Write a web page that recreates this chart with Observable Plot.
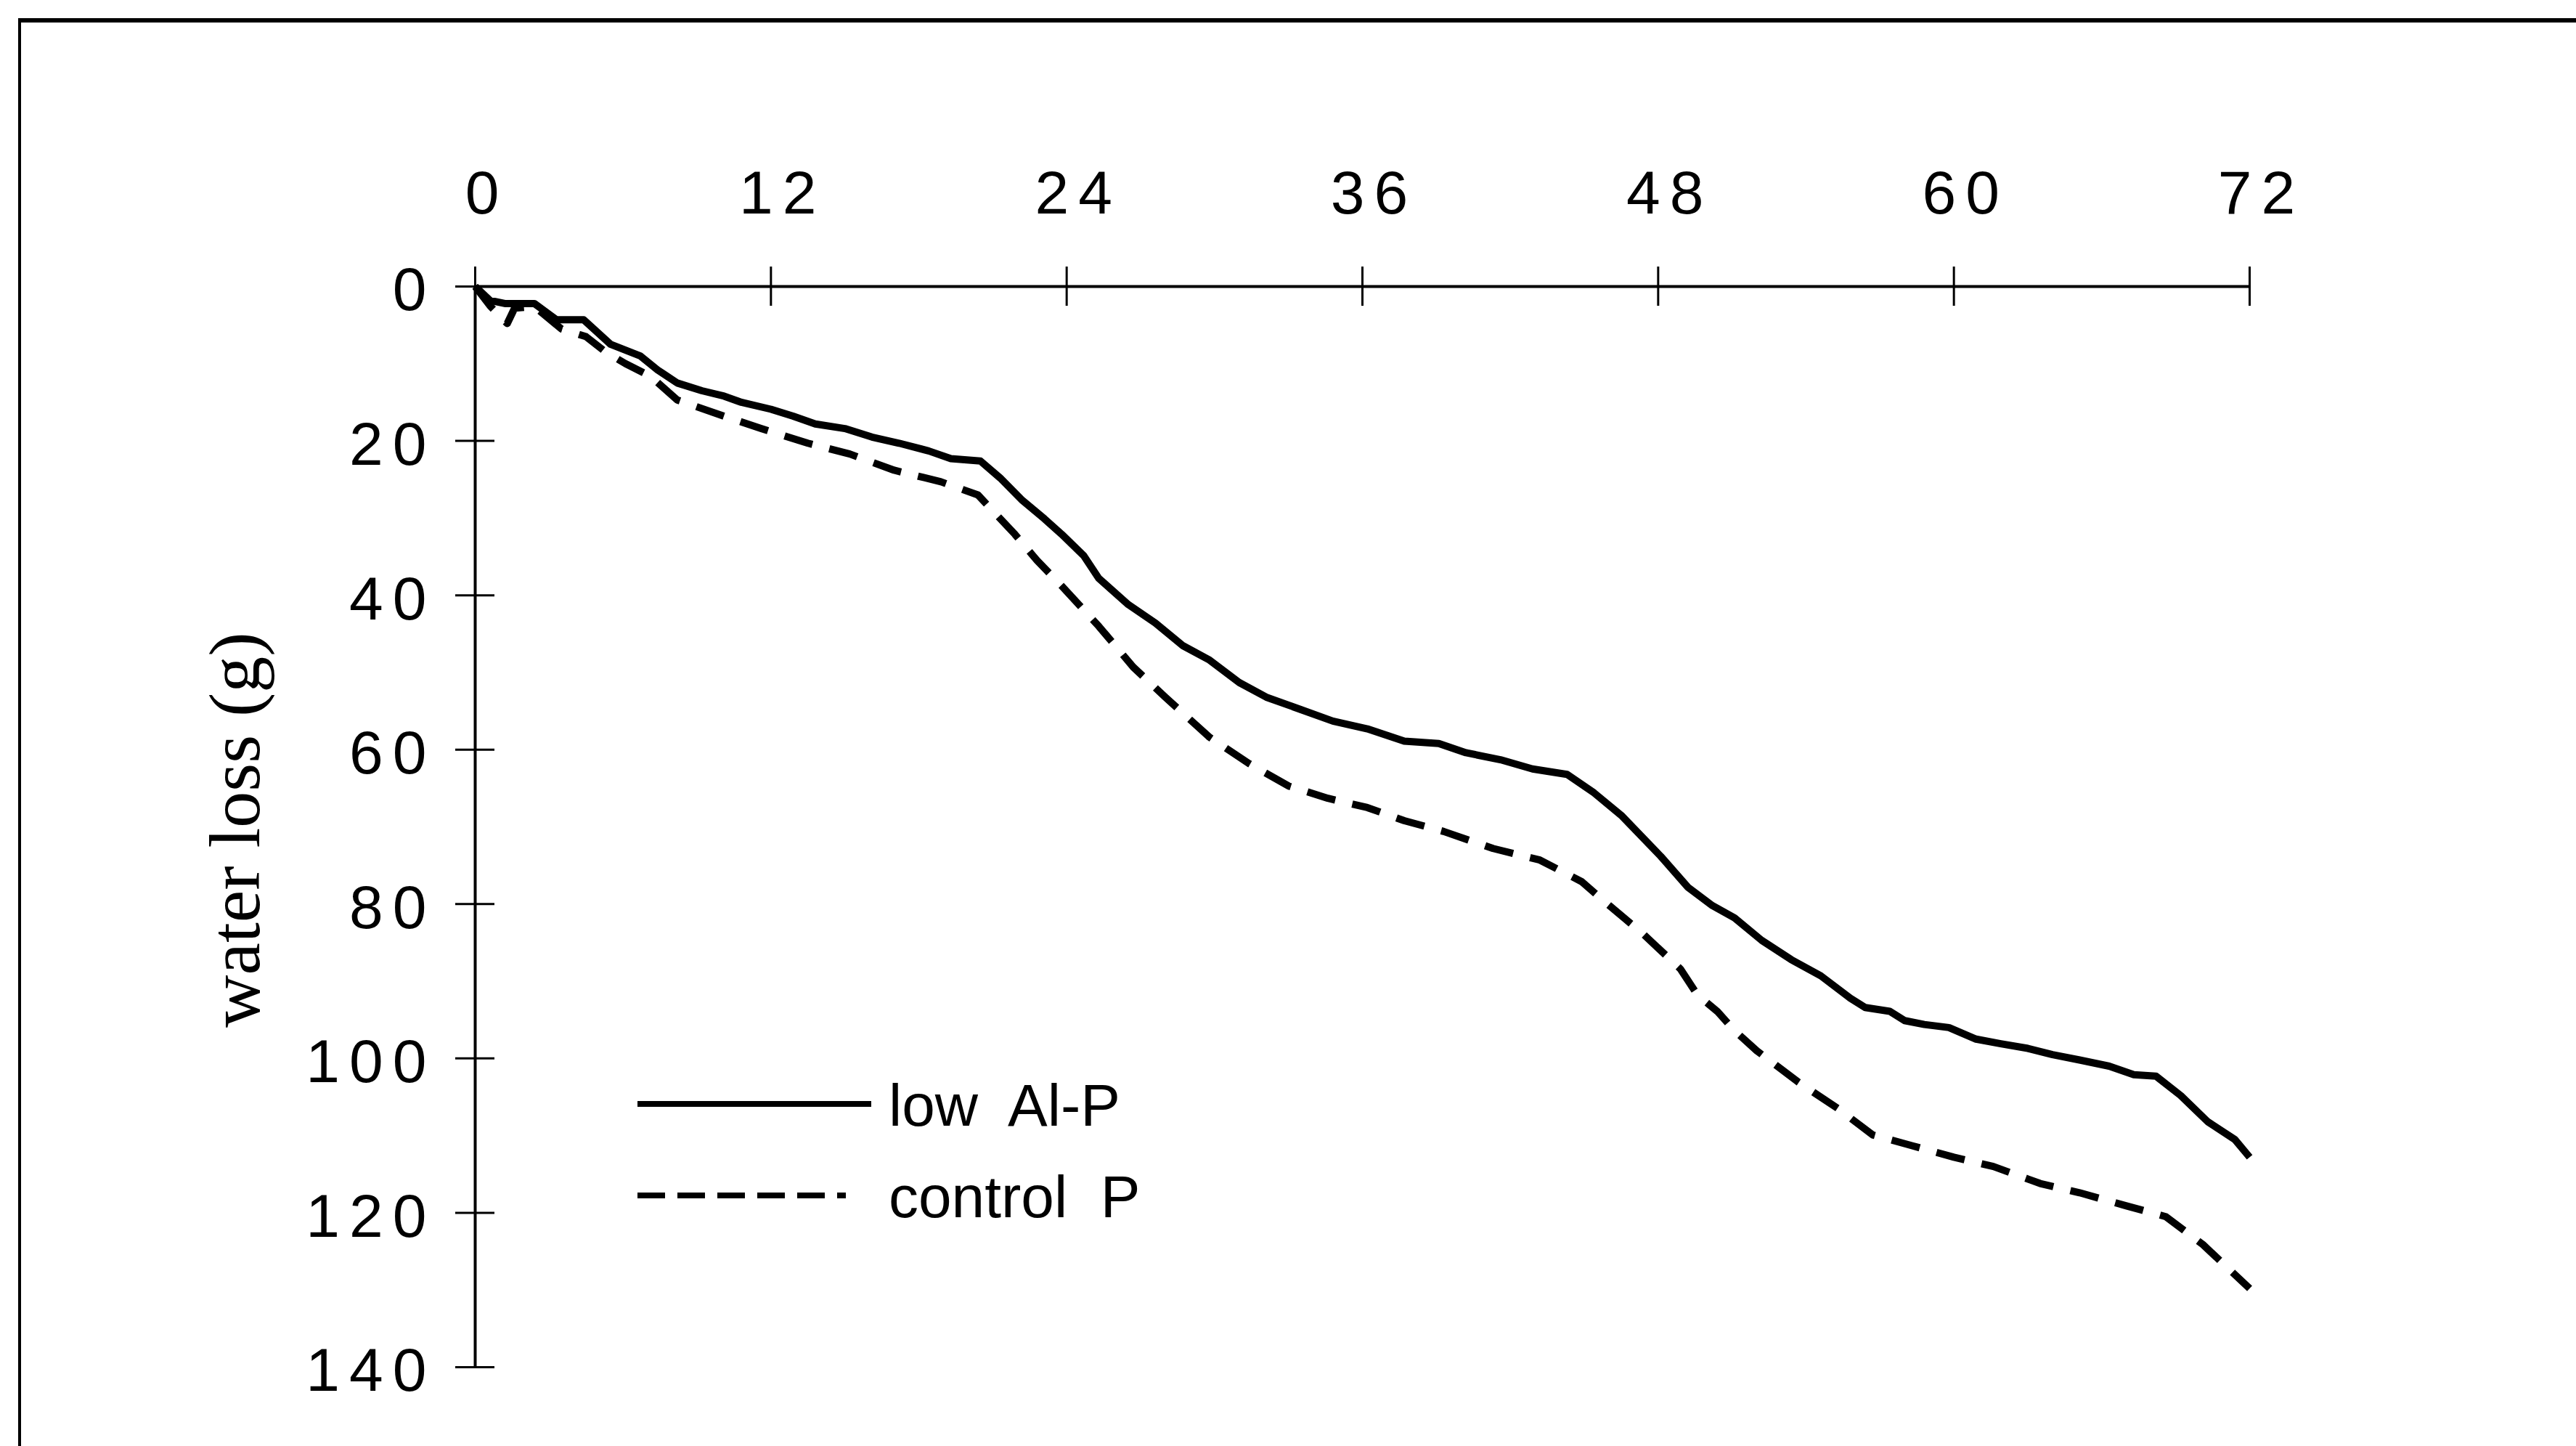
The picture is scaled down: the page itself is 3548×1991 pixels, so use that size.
<!DOCTYPE html>
<html>
<head>
<meta charset="utf-8">
<script src="https://cdn.jsdelivr.net/npm/d3@7"></script>
<script src="https://cdn.jsdelivr.net/npm/@observablehq/plot@0.6"></script>
<style>
  html, body { margin: 0; padding: 0; background: #fff; }
  #wrap { position: relative; width: 3548px; height: 1991px; overflow: hidden; background: #fff; }
  #border { position: absolute; left: 25px; top: 25px; right: -10px; bottom: -10px;
            border-top: 6px solid #000; border-left: 4px solid #000; pointer-events: none; }
  #legend { position: absolute; left: 0; top: 0; pointer-events: none; }
  #legend text { white-space: pre; }
</style>
</head>
<body>
<div id="wrap">
  <div id="chart"></div>
  <div id="border"></div>
</div>
<script>
// ---- data ----
const xTicks = [0, 12, 24, 36, 48, 60, 72];
const yTicks = [0, 20, 40, 60, 80, 100, 120, 140];

const seriesNames = ["low  Al-P", "control  P"];

const lowHours = [0, 0.6, 1.2, 2.4, 3.3, 4.4, 5.5, 6.7, 7.4, 8.2, 9.2, 10.1, 10.8, 12.0, 12.9, 13.8, 15.0, 16.1, 17.2, 18.4, 19.3, 20.5, 21.3, 22.2, 23.1, 23.8, 24.7, 25.3, 26.5, 27.6, 28.7, 29.8, 31.0, 32.1, 33.5, 34.8, 36.2, 37.7, 39.1, 40.2, 41.6, 42.9, 44.3, 45.4, 46.5, 48.1, 49.2, 50.2, 51.1, 52.2, 53.4, 54.6, 55.8, 56.4, 57.4, 58.0, 58.8, 59.8, 60.9, 61.9, 63.0, 64.0, 65.1, 66.3, 67.3, 68.2, 69.2, 70.3, 71.4, 72.0];
const lowLoss  = [0, 1.8, 2.2, 2.2, 4.3, 4.3, 7.5, 9.0, 10.8, 12.5, 13.5, 14.2, 15.0, 15.9, 16.8, 17.8, 18.4, 19.5, 20.3, 21.3, 22.3, 22.6, 24.8, 27.7, 30.1, 32.1, 34.9, 37.8, 41.2, 43.6, 46.5, 48.4, 51.3, 53.2, 54.8, 56.3, 57.3, 58.9, 59.2, 60.4, 61.3, 62.5, 63.2, 65.6, 68.5, 73.8, 77.8, 80.2, 81.8, 84.7, 87.2, 89.3, 92.2, 93.4, 93.9, 95.1, 95.6, 96.0, 97.5, 98.1, 98.7, 99.5, 100.2, 101.0, 102.1, 102.3, 104.8, 108.2, 110.5, 112.8];

const controlHours = [0, 0.6, 1.3, 1.6, 2.4, 3.5, 4.5, 5.3, 6.1, 7.1, 8.2, 10.1, 11.6, 13.5, 15.2, 17.0, 18.9, 20.4, 21.9, 22.8, 23.8, 25.3, 26.7, 28.0, 29.8, 31.4, 33.0, 34.6, 36.2, 37.7, 39.3, 41.3, 43.2, 44.9, 45.8, 47.4, 48.9, 49.6, 50.4, 51.1, 52.0, 53.7, 55.3, 56.7, 58.3, 60.0, 61.6, 63.5, 65.1, 67.0, 68.6, 70.1, 72.0];
const controlLoss  = [0, 2.5, 4.8, 2.8, 2.6, 5.5, 6.5, 8.5, 10.0, 11.6, 14.7, 16.8, 18.4, 20.3, 21.7, 23.8, 25.3, 27.0, 32.1, 35.5, 38.8, 44.0, 49.3, 53.2, 58.4, 61.8, 64.7, 66.3, 67.5, 69.2, 70.6, 72.8, 74.3, 77.1, 79.6, 83.9, 88.4, 91.8, 93.9, 96.4, 99.0, 103.1, 106.5, 109.9, 111.3, 112.8, 114.0, 116.2, 117.4, 119.1, 120.5, 124.1, 129.8];

const yLabel = "water loss (g)";

// ---- build tables ----
const low = lowHours.map((h, i) => ({hour: h, loss: lowLoss[i]}));
const control = controlHours.map((h, i) => ({hour: h, loss: controlLoss[i]}));

const sans = "'Liberation Sans', Arial, Helvetica, sans-serif";
const serif = "'Liberation Serif', 'Times New Roman', serif";

const W = 3548, H = 1991;
const chart = Plot.plot({
  width: W,
  height: H,
  marginLeft: 654,
  marginRight: 450,
  marginTop: 394,
  marginBottom: 109,
  x: {domain: [xTicks[0], xTicks[xTicks.length - 1]], axis: null},
  y: {domain: [yTicks[0], yTicks[yTicks.length - 1]], reverse: true, axis: null},
  style: {background: "#fff", color: "#000"},
  marks: [
    // axis lines
    Plot.ruleY([yTicks[0]], {x1: xTicks[0], x2: xTicks[xTicks.length - 1], stroke: "#000", strokeWidth: 4}),
    Plot.ruleX([xTicks[0]], {y1: yTicks[0], y2: yTicks[yTicks.length - 1], stroke: "#000", strokeWidth: 4}),
    // crossing tick marks
    Plot.ruleX(xTicks, {x: d => d, y1: yTicks[0], y2: yTicks[0], insetTop: -27, insetBottom: -27, stroke: "#000", strokeWidth: 3}),
    Plot.ruleY(yTicks, {y: d => d, x1: xTicks[0], x2: xTicks[0], insetLeft: -27, insetRight: -27, stroke: "#000", strokeWidth: 3}),
    // tick labels
    Plot.text(xTicks, {x: d => d, frameAnchor: "top", lineAnchor: "middle", dy: -127, dx: 16, text: d => String(d),
      fontSize: 84, fontFamily: sans, fill: "#000"}),
    Plot.text(yTicks, {y: d => d, frameAnchor: "left", lineAnchor: "middle", dx: -54, dy: 6, textAnchor: "end", text: d => String(d),
      fontSize: 84, fontFamily: sans, fill: "#000"}),
    // y axis title
    Plot.text([yLabel], {frameAnchor: "left", lineAnchor: "middle", textAnchor: "middle", dx: -330, dy: 4, rotate: -90, text: d => d,
      fontSize: 100, fontFamily: serif, fill: "#000"}),
    // series
    Plot.line(low, {x: "hour", y: "loss", stroke: "#000", strokeWidth: 10, strokeLinejoin: "round", strokeLinecap: "butt"}),
    Plot.line(control, {x: "hour", y: "loss", stroke: "#000", strokeWidth: 10, strokeDasharray: "40,24", strokeLinecap: "butt"})
  ]
});
document.getElementById("chart").appendChild(chart);

// wide letter spacing on the numeric tick labels, as in the reference
d3.select(chart).selectAll("text").each(function () {
  const t = this.textContent.trim();
  if (/^\d+$/.test(t)) this.setAttribute("letter-spacing", "13");
});

// ---- legend (inside the plot area, as in the reference) ----
const leg = d3.select("#wrap").append("svg")
  .attr("id", "legend").attr("width", W).attr("height", H);
const rows = [
  {name: seriesNames[0], y: 1520, x2: 1200, dash: null},
  {name: seriesNames[1], y: 1646, x2: 1165, dash: "38,17"}
];
rows.forEach(r => {
  leg.append("line").attr("x1", 878).attr("x2", r.x2).attr("y1", r.y).attr("y2", r.y)
    .attr("stroke", "#000").attr("stroke-width", 8).attr("stroke-dasharray", r.dash);
  leg.append("text").attr("x", 1224).attr("y", r.y + 30)
    .attr("font-family", sans).attr("font-size", 82).attr("fill", "#000")
    .attr("xml:space", "preserve").text(r.name);
});
</script>
</body>
</html>
